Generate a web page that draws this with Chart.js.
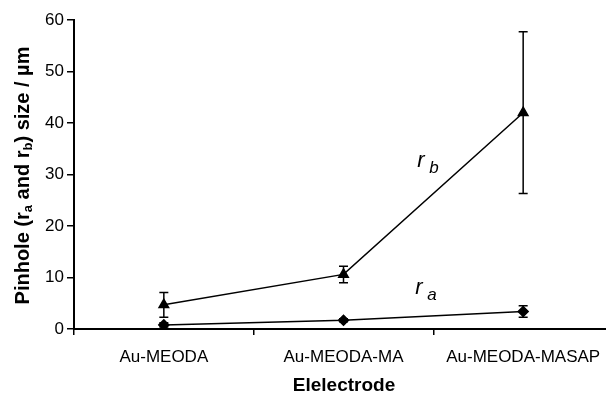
<!DOCTYPE html>
<html lang="en">
<head>
  <meta charset="UTF-8">
  <title>Pinhole size</title>
  <script src="https://cdn.jsdelivr.net/npm/chart.js@4.4.0/dist/chart.umd.min.js"></script>
  <style>
    html, body { margin: 0; padding: 0; background: #fff; overflow: hidden; }
    #wrap { width: 620px; height: 393px; }
  </style>
</head>
<body>
  <div id="wrap"><canvas id="chart" width="620" height="393"></canvas></div>
  <script>
    const categories = ['Au-MEODA', 'Au-MEODA-MA', 'Au-MEODA-MASAP'];
    const rbValues = [4.7, 10.6, 42.0];
    const rbErrors = [2.4, 1.6, 15.7];
    const raValues = [0.8, 1.7, 3.4];
    const raErrors = [0.4, 0.3, 1.1];
    const yTicks = [0, 10, 20, 30, 40, 50, 60];

    const FONT = '"Liberation Sans", Arial, sans-serif';

    // error bars drawn through the scales
    const errorBars = {
      id: 'errorBars',
      afterDatasetsDraw(chart) {
        const { ctx, scales: { x, y } } = chart;
        ctx.save();
        ctx.strokeStyle = '#000';
        ctx.lineWidth = 1.5;
        chart.data.datasets.forEach(ds => {
          ds.data.forEach((v, i) => {
            const e = ds.errors[i];
            const px = x.getPixelForValue(i);
            const top = y.getPixelForValue(v + e);
            const bot = y.getPixelForValue(v - e);
            ctx.beginPath();
            ctx.moveTo(px, top); ctx.lineTo(px, bot);
            ctx.moveTo(px - 4.5, top); ctx.lineTo(px + 4.5, top);
            ctx.moveTo(px - 4.5, bot); ctx.lineTo(px + 4.5, bot);
            ctx.stroke();
          });
        });
        ctx.restore();
      }
    };

    // axis title with subscripts and line labels
    const texts = {
      id: 'texts',
      afterDraw(chart) {
        const { ctx, scales: { x, y }, chartArea } = chart;
        ctx.save();
        ctx.fillStyle = '#000';
        ctx.textBaseline = 'alphabetic';

        // y axis title, rotated
        const parts = [
          ['Pinhole (r', false], ['a', true], [' and r', false], ['b', true], [') size / µm', false]
        ];
        const big = 'bold 20px ' + FONT, small = 'bold 13px ' + FONT;
        let total = 0;
        parts.forEach(p => { ctx.font = p[1] ? small : big; total += ctx.measureText(p[0]).width; });
        ctx.translate(29, (chartArea.top + chartArea.bottom) / 2 + 1);
        ctx.rotate(-Math.PI / 2);
        let cx = -total / 2;
        parts.forEach(p => {
          ctx.font = p[1] ? small : big;
          ctx.fillText(p[0], cx, p[1] ? 3 : 0);
          cx += ctx.measureText(p[0]).width;
        });
        ctx.setTransform(1, 0, 0, 1, 0, 0);

        // x axis title
        ctx.font = 'bold 19px ' + FONT;
        ctx.textAlign = 'center';
        ctx.fillText('Elelectrode', 344, 391);

        // line labels
        const lbl = (sub, xi, yv) => {
          const px = x.getPixelForValue(0) + xi * (x.getPixelForValue(1) - x.getPixelForValue(0));
          const py = y.getPixelForValue(yv);
          ctx.textAlign = 'left';
          ctx.font = 'italic 22px ' + FONT;
          ctx.fillText('r', px, py);
          ctx.font = 'italic 17px ' + FONT;
          ctx.fillText(sub, px + 12, py + 6);
        };
        lbl('b', 1.41, 31.5);
        lbl('a', 1.40, 6.8);
        ctx.restore();
      }
    };

    new Chart(document.getElementById('chart'), {
      type: 'line',
      data: {
        labels: categories,
        datasets: [
          {
            label: 'rb', data: rbValues, errors: rbErrors,
            borderColor: '#000', backgroundColor: '#000', borderWidth: 1.5,
            pointStyle: 'triangle', pointRadius: 5.5, tension: 0
          },
          {
            label: 'ra', data: raValues, errors: raErrors,
            borderColor: '#000', backgroundColor: '#000', borderWidth: 1.5,
            pointStyle: 'rectRot', pointRadius: 5, tension: 0
          }
        ]
      },
      options: {
        responsive: false,
        animation: false,
        layout: { padding: { top: 20, left: 0, right: 0, bottom: 0 } },
        plugins: { legend: { display: false }, tooltip: { enabled: false } },
        scales: {
          x: {
            type: 'category',
            offset: true,
            afterFit(s) { s.height = 64; },
            grid: { drawOnChartArea: false, tickLength: 6, color: '#000', lineWidth: 1.5, offset: true },
            border: { color: '#000', width: 2 },
            ticks: { color: '#000', font: { family: FONT, size: 17 }, padding: 12, maxRotation: 0 }
          },
          y: {
            min: 0, max: 60,
            afterFit(s) { s.width = 74; },
            afterBuildTicks(s) { s.ticks = yTicks.map(v => ({ value: v })); },
            grid: { drawOnChartArea: false, tickLength: 7, color: '#000', lineWidth: 1.5 },
            border: { color: '#000', width: 2 },
            ticks: { color: '#000', font: { family: FONT, size: 17 }, padding: 3 }
          }
        }
      },
      plugins: [errorBars, texts]
    });
  </script>
</body>
</html>
